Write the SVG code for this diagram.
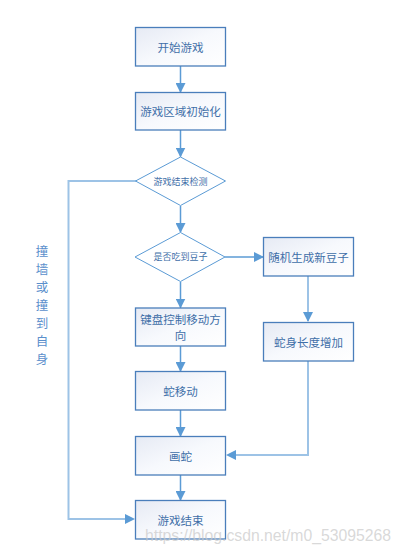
<svg xmlns="http://www.w3.org/2000/svg" width="402" height="554" viewBox="0 0 402 554">
<defs>
<linearGradient id="g" x1="0" y1="0" x2="1" y2="1">
<stop offset="0" stop-color="#e6eaf4"/>
<stop offset="0.5" stop-color="#f7f9fd"/>
<stop offset="1" stop-color="#ffffff"/>
</linearGradient>
<marker id="ah" viewBox="0 0 10 10" refX="9" refY="5" markerWidth="10" markerHeight="10" markerUnits="userSpaceOnUse" orient="auto">
<path d="M0,0 L10,5 L0,10 z" fill="#5b9bd5"/>
</marker>
<style>
.box{fill:url(#g);stroke:#4a7ebb;stroke-width:1.3}
.dia{fill:#ffffff;stroke:#5b9bd5;stroke-width:1}
.t{font-family:"Noto Sans CJK SC","Liberation Sans",sans-serif;font-size:11.5px;fill:#3f6fa8;text-anchor:middle;dominant-baseline:central}
.ts{font-size:9px}
.c{fill:none;stroke:#5b9bd5;stroke-width:1.5}
.cl{fill:none;stroke:#9dc3e6;stroke-width:2}
.v{font-family:"Noto Sans CJK SC","Liberation Sans",sans-serif;font-size:12.5px;fill:#5b8fcc;text-anchor:middle;dominant-baseline:central}
.wm{font-family:"Liberation Sans",sans-serif;font-size:16px;fill:#c8c8c8;fill-opacity:0.7}
</style>
</defs>
<g id="connectors">
<line class="c" x1="180.5" y1="66" x2="180.5" y2="92" marker-end="url(#ah)"/>
<line class="c" x1="180.5" y1="130" x2="180.5" y2="156.5" marker-end="url(#ah)"/>
<line class="c" x1="180.5" y1="206" x2="180.5" y2="232" marker-end="url(#ah)"/>
<line class="c" x1="225" y1="257" x2="263" y2="257" marker-end="url(#ah)"/>
<line class="c" x1="180.5" y1="282" x2="180.5" y2="307.5" marker-end="url(#ah)"/>
<line class="c" x1="180.5" y1="346" x2="180.5" y2="371" marker-end="url(#ah)"/>
<line class="c" x1="180.5" y1="410" x2="180.5" y2="436" marker-end="url(#ah)"/>
<line class="c" x1="180.5" y1="475" x2="180.5" y2="500" marker-end="url(#ah)"/>
<line class="cl" x1="308" y1="276" x2="308" y2="321" />
<path d="M303,312 L308,322 L313,312 z" fill="#5b9bd5"/>
<polyline class="cl" points="308,361 308,455 232,455"/>
<path d="M236,450 L226,455 L236,460 z" fill="#5b9bd5"/>
<polyline class="cl" points="136,181 68.5,181 68.5,519 126,519"/>
<path d="M125,514 L135,519 L125,524 z" fill="#5b9bd5"/>
</g>
<g id="n1"><rect class="box" x="135.5" y="27.5" width="90" height="38.5"/><text class="t" x="180.5" y="46.5">开始游戏</text></g>
<g id="n2"><rect class="box" x="135.5" y="92.5" width="90" height="37.5"/><text class="t" x="180.5" y="111">游戏区域初始化</text></g>
<g id="n3"><polygon class="dia" points="180.5,157 225.5,181 180.5,205.5 135.5,181"/><text class="t ts" x="180.5" y="181">游戏结束检测</text></g>
<g id="n4"><polygon class="dia" points="180.5,232.5 225,257 180.5,281.5 135,257"/><text class="t ts" x="180.5" y="256.5">是否吃到豆子</text></g>
<g id="n5"><rect class="box" x="263.5" y="237.5" width="90" height="38.5"/><text class="t" x="308.5" y="256.5">随机生成新豆子</text></g>
<g id="n6"><rect class="box" x="135.5" y="308" width="90" height="38"/><text class="t" x="180.5" y="319">键盘控制移动方</text><text class="t" x="180.5" y="334.5">向</text></g>
<g id="n7"><rect class="box" x="263.5" y="322.5" width="90" height="38.5"/><text class="t" x="308.5" y="341.5">蛇身长度增加</text></g>
<g id="n8"><rect class="box" x="135.5" y="371.5" width="90" height="38.5"/><text class="t" x="180.5" y="391">蛇移动</text></g>
<g id="n9"><rect class="box" x="135.5" y="436.5" width="90" height="38.5"/><text class="t" x="180.5" y="455.5">画蛇</text></g>
<g id="n10"><rect class="box" x="135.5" y="500.5" width="90" height="38.5"/><text class="t" x="180.5" y="519.5">游戏结束</text></g>
<g id="label">
<text class="v" x="42" y="250">撞</text>
<text class="v" x="42" y="268">墙</text>
<text class="v" x="42" y="286">或</text>
<text class="v" x="42" y="304">撞</text>
<text class="v" x="42" y="322">到</text>
<text class="v" x="42" y="340">自</text>
<text class="v" x="42" y="358">身</text>
</g>
<text class="wm" x="145" y="541" textLength="246" lengthAdjust="spacingAndGlyphs">https://blog.csdn.net/m0_53095268</text>
</svg>
